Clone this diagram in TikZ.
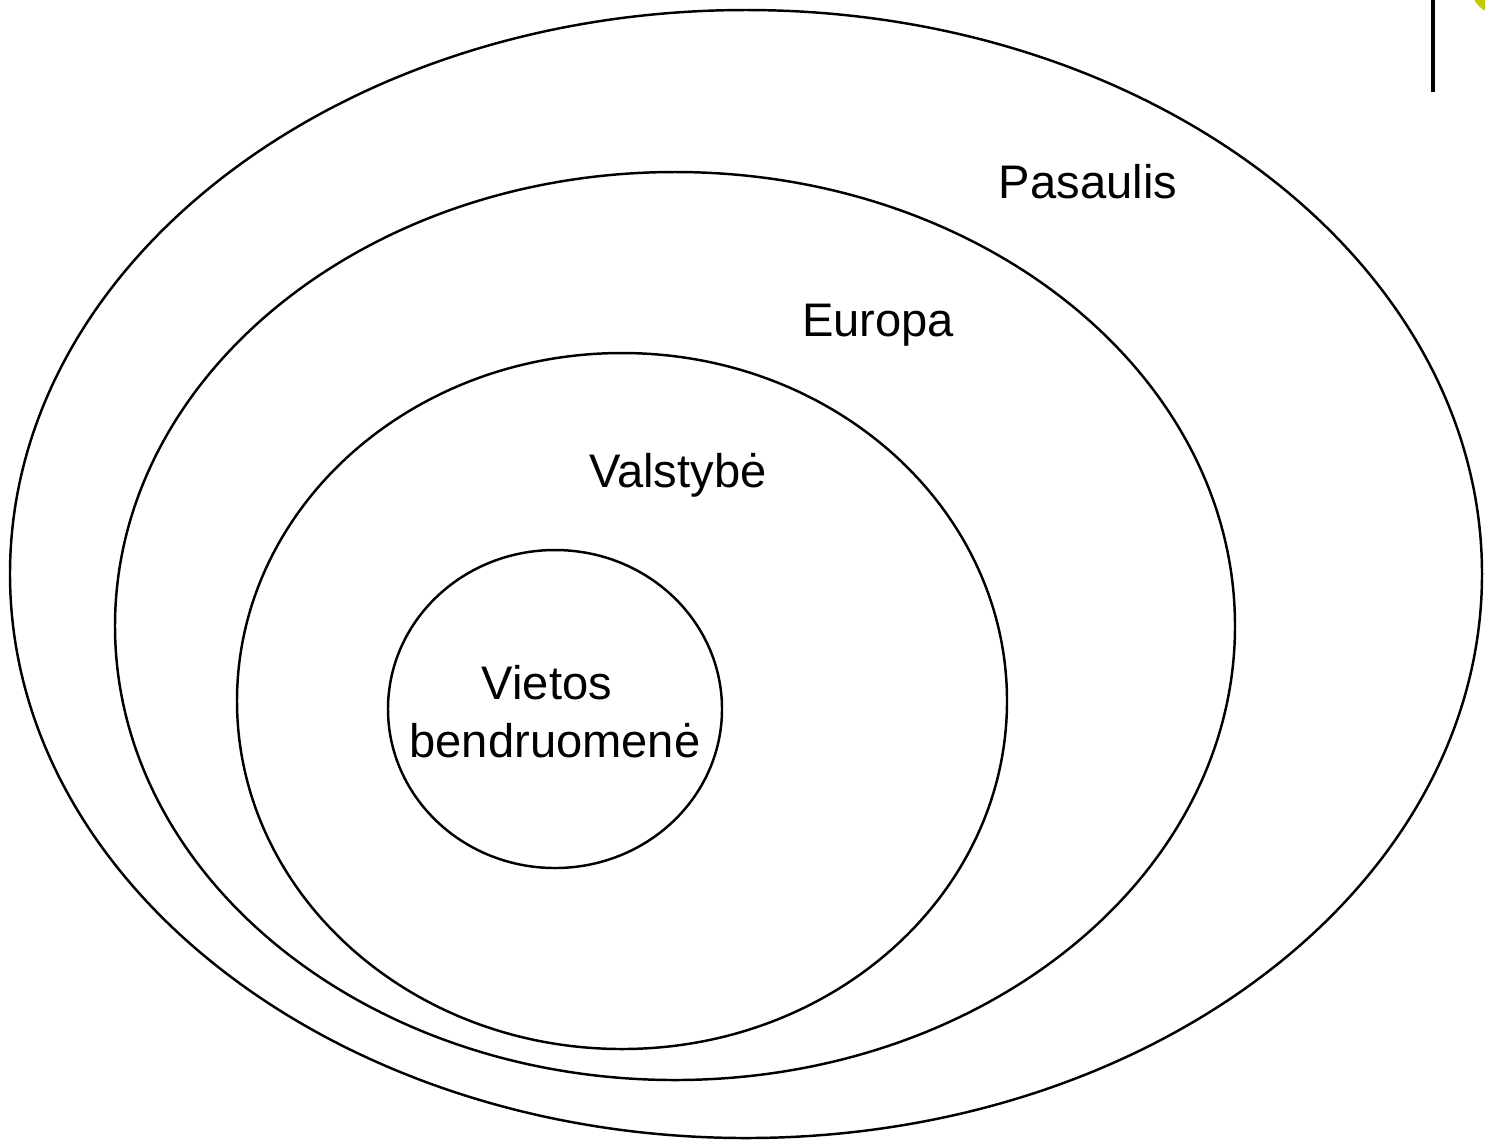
\documentclass[tikz,border=0pt]{standalone}
\usepackage{fontspec}
\setmainfont{Liberation Sans}
\definecolor{olive}{HTML}{C8C800}
\tikzset{
  ring/.style={line width=0.7pt},
  lbl/.style={anchor=base, inner sep=0pt, font=\fontsize{13.4}{16.5}\selectfont}
}

\begin{document}
\begin{tikzpicture}[x=0.01cm, y=-0.01cm]
\useasboundingbox (0,0) rectangle (1485,1141);
% corner marks
\begin{scope}
\clip (0,0) rectangle (1485,1141);
\fill[olive] (1498,-13) circle (27);
\end{scope}
\draw[line width=0.9pt] (1433,0) -- (1433,92);
% rings
\coordinate (world) at (746,574);
\coordinate (europe) at (675,626);
\coordinate (state) at (622,701);
\coordinate (local) at (555,709);
\draw[ring] (world) ellipse [x radius=736, y radius=-564];
\draw[ring] (europe) ellipse [x radius=560, y radius=-454];
\draw[ring] (state) ellipse [x radius=385, y radius=-348];
\draw[ring] (local) ellipse [x radius=167, y radius=-159];
% labels
\node[lbl] (pasaulis) at (1088,198) {Pasaulis};
\node[lbl] (europa) at (878,336) {Europa};
\node[lbl] (valstybe) at (678,487) {Valstybė};
\node[lbl] (vietos) at (547,699) {Vietos};
\node[lbl] (bendruomene) at (555,757) {bendruomenė};
\end{tikzpicture}
\end{document}
